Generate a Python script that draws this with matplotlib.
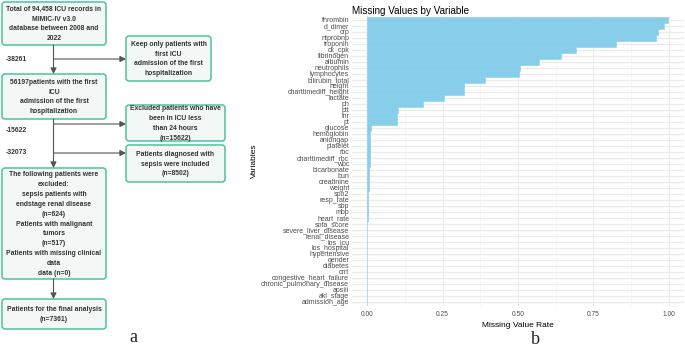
import matplotlib
matplotlib.use("Agg")
import matplotlib.pyplot as plt
from matplotlib.patches import FancyBboxPatch

# ---------------- data ----------------
variables = ["thrombin", "d_dimer", "crp", "ntprobnp", "troponin", "ck_cpk", "fibrinogen",
             "albumin", "neutrophils", "lymphocytes", "bilirubin_total", "height",
             "charttimediff_height", "lactate", "ph", "ptt", "inr", "pt", "glucose",
             "hemoglobin", "aniongap", "platelet", "rbc", "charttimediff_rbc", "wbc",
             "bicarbonate", "bun", "creatinine", "weight", "spo2", "resp_rate", "sbp", "mbp",
             "heart_rate", "sofa_score", "severe_liver_disease", "renal_disease", "los_icu",
             "los_hospital", "hypertensive", "gender", "diabetes", "crrt",
             "congestive_heart_failure", "chronic_pulmonary_disease", "apsiii", "aki_stage",
             "admission_age"]
missing_rate = [0.997, 0.983, 0.963, 0.957, 0.825, 0.692, 0.643, 0.571, 0.508, 0.504,
                0.392, 0.322, 0.322, 0.255, 0.184, 0.103, 0.099, 0.099, 0.012, 0.009,
                0.009, 0.008, 0.008, 0.008, 0.008, 0.007, 0.007, 0.007, 0.006, 0.003,
                0.003, 0.002, 0.002, 0.002, 0.001, 0.0, 0.0, 0.0, 0.0, 0.0, 0.0, 0.0,
                0.0, 0.0, 0.0, 0.0, 0.0, 0.0]
x_ticks = [0.00, 0.25, 0.50, 0.75, 1.00]
x_tick_labels = ["0.00", "0.25", "0.50", "0.75", "1.00"]

flow_texts = [
    "Total of 94,458 ICU records in\nMIMIC-IV v3.0\ndatabase between 2008 and\n2022",
    "Keep only patients with\nfirst ICU\nadmission of the first\nhospitalization",
    "56197patients with the first\nICU\nadmission of the first\nhospitalization",
    "Excluded patients who have\nbeen in ICU less\nthan 24 hours\n(n=15622)",
    "Patients diagnosed with\nsepsis were included\n(n=8502)",
    "The following patients were\nexcluded:\nsepsis patients with\nendstage renal disease\n(n=624)\n"
    "Patients with malignant\ntumors\n(n=517)\nPatients with missing clinical\ndata\ndata (n=0)",
    "Patients for the final analysis\n(n=7361)",
]
step_labels = ["-38261", "-15622", "-32073"]

# ---------------- figure ----------------
W, H = 685, 347
fig = plt.figure(figsize=(W / 100, H / 100), dpi=100)
fig.patch.set_facecolor("white")

# panel a: flowchart in pixel coordinates
axa = fig.add_axes([0, 0, 1, 1])
axa.set_xlim(0, W)
axa.set_ylim(H, 0)
axa.axis("off")

edge_c = "#4cc39a"
fill_c = "#f3f7f5"
txt_c = "#333333"
line_c = "#555555"
fsz = 4.85

boxes = [  # x0, y0, x1, y1
    (2, 2, 106, 45),
    (126, 36, 211, 81),
    (2, 74, 106, 119),
    (126, 105, 225, 141),
    (126, 145, 225, 182),
    (2, 168, 106, 279),
    (2, 299, 106, 329),
]
for (x0, y0, x1, y1), t in zip(boxes, flow_texts):
    p = FancyBboxPatch((x0, y0), x1 - x0, y1 - y0,
                       boxstyle="round,pad=0,rounding_size=3",
                       fc=fill_c, ec=edge_c, lw=1.1)
    axa.add_patch(p)
    axa.text((x0 + x1) / 2, (y0 + y1) / 2 + 0.5, t, ha="center", va="center",
             fontsize=fsz, color=txt_c, fontweight="bold", family="Liberation Sans",
             linespacing=1.58)

def arrow(x0, y0, x1, y1):
    axa.annotate("", xy=(x1, y1), xytext=(x0, y0),
                 arrowprops=dict(arrowstyle="-|>,head_length=0.35,head_width=0.18",
                                 color=line_c, lw=0.8, shrinkA=0, shrinkB=0))

cx = 53.5
arrow(cx, 45, cx, 74)
arrow(cx, 59, 126, 59)
arrow(cx, 119, cx, 168)
arrow(cx, 124, 126, 124)
arrow(cx, 153, 126, 153)
arrow(cx, 279, cx, 299)

for lab, yy in zip(step_labels, [59, 130, 152]):
    axa.text(6, yy, lab, ha="left", va="center", fontsize=fsz, color=txt_c,
             fontweight="bold", family="Liberation Sans")

axa.text(133, 338, "a", ha="center", va="center", fontsize=13,
         family="Liberation Serif", color="#222222")
axa.text(535, 339, "b", ha="center", va="center", fontsize=13,
         family="Liberation Serif", color="#222222")

# panel b: bar chart
left_px, right_px = 352, 684
top_px, bot_px = 16.4, 305.6
axb = fig.add_axes([left_px / W, 1 - bot_px / H, (right_px - left_px) / W,
                    (bot_px - top_px) / H])
axb.set_facecolor("none")
n = len(variables)
ypos = list(range(n))
axb.barh(ypos, missing_rate, height=0.9, color="#87ceeb", edgecolor="#87ceeb",
         linewidth=0.4, zorder=3)
axb.set_ylim(n - 1 + 0.6, -0.6)
axb.set_xlim(-0.05, 1.05)
axb.set_yticks(ypos)
axb.set_yticklabels(variables, family="Liberation Sans", fontsize=5.0, color="#4d4d4d")
axb.set_xticks(x_ticks)
axb.set_xticklabels(x_tick_labels, family="Liberation Sans", fontsize=4.8, color="#4d4d4d")
axb.set_xticks([0.125, 0.375, 0.625, 0.875], minor=True)
axb.tick_params(axis="both", length=0, pad=2)
axb.tick_params(axis="x", which="minor", length=0)
axb.tick_params(axis="x", pad=4)
axb.grid(True, which="major", color="#ebebeb", lw=0.8, zorder=0)
axb.grid(True, which="minor", axis="x", color="#f2f2f2", lw=0.5, zorder=0)
for s in axb.spines.values():
    s.set_visible(False)
axb.set_xlabel("Missing Value Rate", family="Liberation Sans", fontsize=6, labelpad=3)
axb.set_ylabel("Variables", family="Liberation Sans", fontsize=6)
axb.yaxis.set_label_coords((258 - left_px) / (right_px - left_px), 0.5)
axb.set_title("Missing Values by Variable", family="Liberation Sans", fontsize=7.1,
              loc="left", x=0.0, pad=1.5)

fig.savefig("out.png", dpi=100, facecolor="white")
